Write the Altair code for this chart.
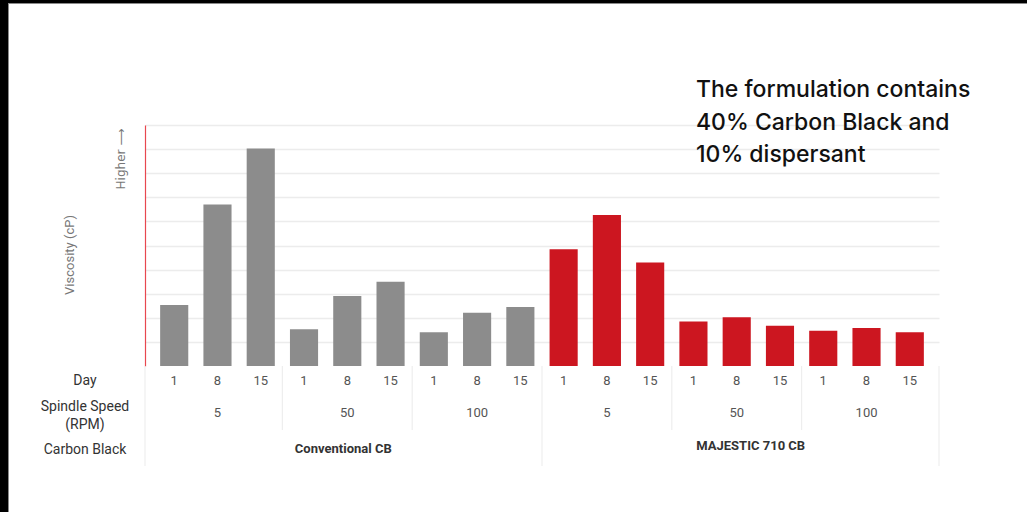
import altair as alt
import pandas as pd

# ---- data ----
carbon_black = ["Conventional CB"] * 9 + ["MAJESTIC 710 CB"] * 9
spindle_speed = [5, 5, 5, 50, 50, 50, 100, 100, 100] * 2
day = [1, 8, 15] * 6
viscosity = [2.53, 6.70, 9.03, 1.53, 2.90, 3.50, 1.40, 2.21, 2.45,
             4.84, 6.27, 4.29, 1.85, 2.02, 1.67, 1.46, 1.58, 1.40]
row_headers = ["Day", "Spindle Speed", "(RPM)", "Carbon Black"]
note_lines = ["The formulation contains", "40% Carbon Black and", "10% dispersant"]
y_title = "Viscosity (cP)"
higher_label = "Higher \u27f6"

W, H = 794, 241
PAD_IN = 0.35
STEP = W / (18 - PAD_IN + 2 * PAD_IN)
HALF_GAP = PAD_IN * STEP / 2

df = pd.DataFrame({
    "cb": carbon_black,
    "speed": spindle_speed,
    "day": day,
    "value": viscosity,
})
df["key"] = df["cb"] + "|" + df["speed"].astype(str) + "|" + df["day"].astype(str)
keys = list(df["key"])

XSCALE = alt.Scale(domain=keys, paddingInner=PAD_IN, paddingOuter=PAD_IN)
xenc = alt.X("key:N", sort=keys, axis=None, scale=XSCALE)
xstart = alt.X("key:N", sort=keys, axis=None, scale=XSCALE, bandPosition=0)

TABLE_FONT = "Roboto, sans-serif"

bars = alt.Chart(df).mark_bar().encode(
    x=xenc,
    y=alt.Y("value:Q",
            scale=alt.Scale(domain=[0, 10], nice=False),
            axis=alt.Axis(values=list(range(1, 11)), grid=True, gridColor="#ececec",
                          gridWidth=1.5, labels=False, ticks=False, title=None,
                          domainColor="#e8474f", domainWidth=1.2)),
    color=alt.Color("cb:N", legend=None,
                    scale=alt.Scale(domain=["Conventional CB", "MAJESTIC 710 CB"],
                                    range=["#8c8c8c", "#cc1620"])),
)

day_labels = alt.Chart(df).mark_text(
    font=TABLE_FONT, fontSize=13, color="#555555", baseline="middle"
).encode(x=xenc, y=alt.value(256), text="day:N")

speed_labels = alt.Chart(df).transform_filter("datum.day == 8").mark_text(
    font=TABLE_FONT, fontSize=13, color="#555555", baseline="middle"
).encode(x=xenc, y=alt.value(288), text="speed:N")

conv_label = alt.Chart(df).transform_filter(
    "datum.day == 8 && datum.speed == 50 && datum.cb == 'Conventional CB'"
).mark_text(font=TABLE_FONT, fontSize=13, fontWeight="bold", color="#333333",
            baseline="middle", dx=-4).encode(x=xenc, y=alt.value(324), text="cb:N")

maj_label = alt.Chart(df).transform_filter(
    "datum.day == 8 && datum.speed == 50 && datum.cb == 'MAJESTIC 710 CB'"
).mark_text(font=TABLE_FONT, fontSize=13, fontWeight="bold", color="#333333",
            baseline="middle", dx=14).encode(x=xenc, y=alt.value(321), text="cb:N")

# separators between spindle-speed groups
speed_seps = alt.Chart(df).transform_filter(
    "datum.day == 1 && datum.speed != 5"
).mark_rule(color="#eeeeee", strokeWidth=1.2, xOffset=-HALF_GAP).encode(
    x=xstart, y=alt.value(H), y2=alt.value(305))

# separator between the two carbon blacks
cb_sep = alt.Chart(df).transform_filter(
    "datum.day == 1 && datum.speed == 5 && datum.cb == 'MAJESTIC 710 CB'"
).mark_rule(color="#eeeeee", strokeWidth=1.2, xOffset=-HALF_GAP).encode(
    x=xstart, y=alt.value(H), y2=alt.value(341))


def fixed_text(label, x, y, **kw):
    return alt.Chart(pd.DataFrame({"t": [label]})).mark_text(**kw).encode(
        x=alt.value(x), y=alt.value(y), text="t:N")


def fixed_rule(color, width, **enc):
    return alt.Chart(pd.DataFrame({"r": [0]})).mark_rule(
        color=color, strokeWidth=width).encode(**{k: alt.value(v) for k, v in enc.items()})


edge_left = fixed_rule("#eeeeee", 1.2, x=0, y=H, y2=341)
edge_right = fixed_rule("#eeeeee", 1.2, x=W, y=H, y2=341)

header_pos = [256, 282, 300, 325]
headers = [fixed_text(lbl, -60, yy, font=TABLE_FONT, fontSize=14,
                      color="#333333", baseline="middle")
           for lbl, yy in zip(row_headers, header_pos)]

note_pos = [-28, 5, 37]
notes = [fixed_text(line, 551, yy, font="Inter", fontSize=23, fontWeight=500,
                    color="#111111", align="left", baseline="alphabetic")
         for line, yy in zip(note_lines, note_pos)]

ytitle = fixed_text(y_title, -75, 130, font=TABLE_FONT, fontSize=13, color="#777777",
                    angle=270, baseline="middle")
higher = fixed_text(higher_label, -24, 34, font="DejaVu Sans, Roboto, sans-serif",
                    fontSize=12, color="#777777", angle=270, baseline="middle")

# black photo frame on the left and top
frame_left = fixed_rule("#000000", 8, x=-141, y=-125, y2=387)
frame_top = fixed_rule("#000000", 3, x=-145, x2=882, y=-123.5)
frame_in_l = fixed_rule("#8a8a8a", 1, x=-136.5, y=-122, y2=387)
frame_in_t = fixed_rule("#8a8a8a", 1, x=-137, x2=882, y=-121.5)

chart = alt.layer(
    speed_seps, cb_sep, edge_left, edge_right, bars, day_labels, speed_labels,
    conv_label, maj_label, *headers, *notes, ytitle, higher,
    frame_left, frame_top, frame_in_l, frame_in_t
).properties(
    width=W, height=H,
    padding={"left": 145, "top": 125, "right": 88, "bottom": 146},
    autosize=alt.AutoSizeParams(type="none"),
    background="white",
).configure_view(stroke=None)

chart.save("out.html", embed_options={"renderer": "svg", "actions": False})
